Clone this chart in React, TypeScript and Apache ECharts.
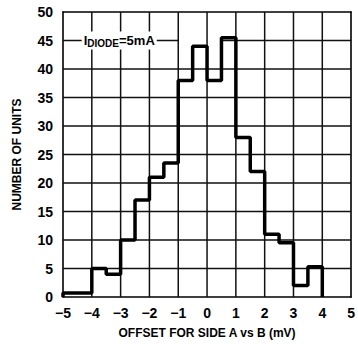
import React, { useEffect, useRef } from "react";
import * as echarts from "echarts";

const binStarts = [-5, -4.5, -4, -3.5, -3, -2.5, -2, -1.5, -1, -0.5, 0, 0.5, 1, 1.5, 2, 2.5, 3, 3.5];
const counts = [0.7, 0.7, 5, 4, 10, 17, 21, 23.5, 38, 44, 38, 45.5, 28, 22, 11, 9.5, 2, 5.3];
const lastEdge = 4;
const xTicks = [-5, -4, -3, -2, -1, 0, 1, 2, 3, 4, 5];
const yTicks = [0, 5, 10, 15, 20, 25, 30, 35, 40, 45, 50];
const labelLevel = 45;
const labelGap = [-1, 0.5];

const FONT = '"Liberation Sans", Arial, sans-serif';

export default function App() {
  const ref = useRef<HTMLDivElement>(null);
  useEffect(() => {
    if (!ref.current) return;
    const chart = echarts.init(ref.current, null, { renderer: "svg" });
    const stepData: number[][] = [[binStarts[0], 0]];
    binStarts.forEach((x, i) => stepData.push([x, counts[i]]));
    stepData.push([lastEdge, 0]);

    const xMin = xTicks[0], xMax = xTicks[xTicks.length - 1];
    const yMin = yTicks[0], yMax = yTicks[yTicks.length - 1];

    const left = 63, right = 4, top = 12, bottom = 44;
    const labelStyle = { color: "#000", fontFamily: FONT, fontSize: 14, fontWeight: "bold" };
    const border = { show: true, onZero: false, lineStyle: { color: "#000", width: 1.6 } };
    chart.setOption({
      animation: false,
      backgroundColor: "#fff",
      grid: { left, right, top, bottom, show: false },
      xAxis: [
        {
          type: "value",
          min: xMin,
          max: xMax,
          interval: 1,
          axisLine: border,
          axisTick: { show: false },
          splitLine: { show: false },
          axisLabel: {
            margin: 9,
            ...labelStyle,
            formatter: (v: number) => (v < 0 ? "\u2212" + Math.abs(v) : String(v)),
          },
          name: "OFFSET FOR SIDE A vs B (mV)",
          nameLocation: "middle",
          nameGap: 30,
          nameTextStyle: { ...labelStyle, fontSize: 12 },
        },
        {
          type: "value",
          position: "top",
          min: xMin,
          max: xMax,
          interval: 1,
          axisLine: border,
          axisTick: { show: false },
          axisLabel: { show: false },
          splitLine: { show: false },
        },
      ],
      yAxis: [
        {
          type: "value",
          min: yMin,
          max: yMax,
          interval: 5,
          axisLine: border,
          axisTick: { show: false },
          splitLine: { show: false },
          axisLabel: { margin: 10, ...labelStyle },
          name: "NUMBER OF UNITS",
          nameLocation: "middle",
          nameGap: 40,
          nameTextStyle: { ...labelStyle, fontSize: 12 },
        },
        {
          type: "value",
          position: "right",
          min: yMin,
          max: yMax,
          interval: 5,
          axisLine: border,
          axisTick: { show: false },
          axisLabel: { show: false },
          splitLine: { show: false },
        },
      ],
      series: [
        {
          type: "line",
          step: "end",
          data: stepData,
          symbol: "none",
          lineStyle: { color: "#000", width: 3.5 },
          z: 5,
        },
      ],
    });

    const px = (x: number, y: number) => chart.convertToPixel({ gridIndex: 0 }, [x, y]) as number[];
    const seg = (a: number[], b: number[]) => ({
      type: "line",
      z: 1,
      silent: true,
      shape: { x1: a[0], y1: a[1], x2: b[0], y2: b[1] },
      style: { stroke: "#111", lineWidth: 1.5 },
    });
    const lines: any[] = [];
    xTicks.slice(1, -1).forEach((v) => lines.push(seg(px(v, yMin), px(v, yMax))));
    yTicks.slice(1, -1).forEach((v) => {
      if (v === labelLevel) {
        lines.push(seg(px(xMin, v), px(labelGap[0], v)));
        lines.push(seg(px(labelGap[1], v), px(xMax, v)));
      } else {
        lines.push(seg(px(xMin, v), px(xMax, v)));
      }
    });
    const lp = px(-4.35, labelLevel);
    chart.setOption({
      graphic: [
        ...lines,
        {
          type: "text",
          x: lp[0],
          y: lp[1],
          z: 11,
          style: {
            text: "{a|I}{b|DIODE}{a|=5mA}",
            verticalAlign: "middle",
            backgroundColor: "#fff",
            padding: [1, 2, 1, 2],
            rich: {
              a: { fontFamily: FONT, fontSize: 13, fontWeight: "bold", fill: "#000" },
              b: { fontFamily: FONT, fontSize: 10, fontWeight: "bold", fill: "#000", padding: [6, 0, 0, 0] },
            },
          },
        },
      ],
    });
    return () => chart.dispose();
  }, []);
  return <div ref={ref} style={{ position: "fixed", left: 0, top: 0, width: 358, height: 344 }} />;
}
